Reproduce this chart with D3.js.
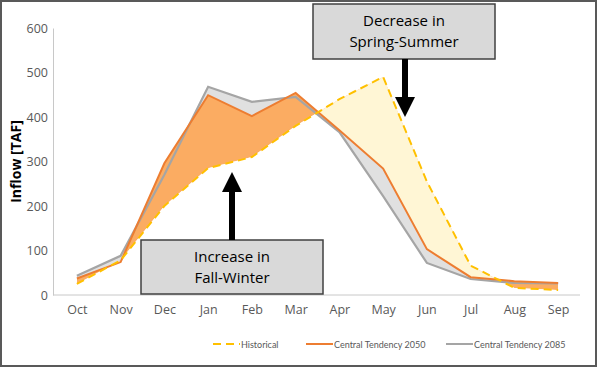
<!DOCTYPE html>
<html>
<head>
<meta charset="utf-8">
<script src="https://cdn.jsdelivr.net/npm/d3@7"></script>
<style>
  body { margin: 0; background: #fff; }
  svg { display: block; font-family: "Open Sans", sans-serif; }
</style>
</head>
<body>
<div id="chartContainer"></div>
<script>
// Data
const months = ['Oct', 'Nov', 'Dec', 'Jan', 'Feb', 'Mar', 'Apr', 'May', 'Jun', 'Jul', 'Aug', 'Sep'];
const historical = [25, 78, 200, 285, 310, 380, 440, 490, 255, 66, 16, 11];
const ct2050 = [37, 74, 296, 449, 402, 454, 370, 284, 103, 40, 31, 27];
const ct2085 = [43, 88, 270, 468, 434, 445, 366, 222, 72, 36, 27, 26];
const yTicks = [0, 100, 200, 300, 400, 500, 600];

const width = 597;
const height = 367;
const plot = { left: 55, right: 580, top: 28, bottom: 295 };

const svg = d3
  .select('#chartContainer')
  .append('svg')
  .attr('width', width)
  .attr('height', height);

// frame
svg.append('rect')
  .attr('x', 1).attr('y', 1)
  .attr('width', width - 2).attr('height', height - 2)
  .attr('fill', '#fff')
  .attr('stroke', '#595959')
  .attr('stroke-width', 2);

const x = d3.scalePoint().domain(months).range([plot.left, plot.right]).padding(0.5);
const y = d3.scaleLinear().domain([0, 600]).range([plot.bottom, plot.top]);

const rows = months.map((m, i) => ({ m, h: historical[i], a: ct2050[i], b: ct2085[i] }));

// clip regions above / below historical line
const defs = svg.append('defs');
defs.append('clipPath').attr('id', 'aboveHist')
  .append('path')
  .attr('d', d3.area().x(d => x(d.m)).y0(0).y1(d => y(d.h))(rows));
defs.append('clipPath').attr('id', 'belowHist')
  .append('path')
  .attr('d', d3.area().x(d => x(d.m)).y0(d => y(d.h)).y1(height)(rows));

// grey band between the two projections
svg.append('path')
  .attr('d', d3.area().x(d => x(d.m)).y0(d => y(d.a)).y1(d => y(d.b))(rows))
  .attr('fill', '#e0e0e0');

const between = d3.area().x(d => x(d.m)).y0(d => y(d.h)).y1(d => y(d.a));
// decrease (historical above 2050)
svg.append('path')
  .attr('d', between(rows))
  .attr('clip-path', 'url(#belowHist)')
  .attr('fill', '#fff6d5');
// increase (2050 above historical)
svg.append('path')
  .attr('d', between(rows))
  .attr('clip-path', 'url(#aboveHist)')
  .attr('fill', '#fbac62');

// axes
const yAxis = svg.append('g')
  .attr('transform', `translate(${plot.left - 2},0)`)
  .call(d3.axisLeft(y).tickValues(yTicks).tickSize(0).tickPadding(5));
yAxis.select('.domain').attr('stroke', '#c8c8c8');
yAxis.selectAll('text').attr('fill', '#595959').style('font-size', '12.5px').style('font-family', 'Open Sans');

const xAxis = svg.append('g')
  .attr('transform', `translate(0,${plot.bottom})`)
  .call(d3.axisBottom(x).tickSize(0).tickPadding(10));
xAxis.select('.domain').attr('d', `M${plot.left - 2},0H${plot.right}`).attr('stroke', '#c8c8c8');
xAxis.selectAll('text').attr('fill', '#595959').style('font-size', '12.5px').style('font-family', 'Open Sans');

// y label
svg.append('text')
  .attr('transform', `translate(21,${(plot.top + plot.bottom) / 2}) rotate(-90)`)
  .attr('text-anchor', 'middle')
  .style('font-size', '14px')
  .style('font-weight', 'bold')
  .attr('fill', '#000')
  .text('Inflow [TAF]');

// lines
const line = key => d3.line().x(d => x(d.m)).y(d => y(d[key]));
svg.append('path').attr('d', line('b')(rows))
  .attr('fill', 'none').attr('stroke', '#a5a5a5').attr('stroke-width', 2.2);
svg.append('path').attr('d', line('a')(rows))
  .attr('fill', 'none').attr('stroke', '#ed7d31').attr('stroke-width', 2);
svg.append('path').attr('d', line('h')(rows))
  .attr('fill', 'none').attr('stroke', '#ffc000').attr('stroke-width', 2)
  .attr('stroke-dasharray', '8,5');

// callouts
function callout(bx, by, bw, bh, lines) {
  svg.append('rect')
    .attr('x', bx).attr('y', by).attr('width', bw).attr('height', bh)
    .attr('fill', '#d9d9d9').attr('stroke', '#404040').attr('stroke-width', 1.5);
  lines.forEach((t, i) => {
    svg.append('text')
      .attr('x', bx + bw / 2)
      .attr('y', by + 22 + i * 20.5)
      .attr('text-anchor', 'middle')
      .style('font-size', '15px')
      .attr('fill', '#000')
      .text(t);
  });
}
function arrow(ax, yStart, yTip) {
  const dir = yTip > yStart ? 1 : -1;
  const headLen = 20;
  const yHead = yTip - dir * headLen;
  svg.append('path')
    .attr('d', `M${ax - 3},${yStart}V${yHead}H${ax - 10}L${ax},${yTip}L${ax + 10},${yHead}H${ax + 3}V${yStart}Z`)
    .attr('fill', '#000');
}
callout(313, 4, 182, 55, ['Decrease in', 'Spring-Summer']);
arrow(405, 59, 117);
callout(141, 240, 182, 54, ['Increase in', 'Fall-Winter']);
arrow(232, 240, 172);

// legend
const legend = [
  { label: 'Historical', color: '#ffc000', dash: '8,5', x: 213 },
  { label: 'Central Tendency 2050', color: '#ed7d31', dash: null, x: 306 },
  { label: 'Central Tendency 2085', color: '#a5a5a5', dash: null, x: 446 }
];
const lg = svg.selectAll('.legend').data(legend).enter().append('g').attr('class', 'legend');
lg.append('line')
  .attr('x1', d => d.x).attr('x2', d => d.x + 27)
  .attr('y1', 344).attr('y2', 344)
  .attr('stroke', d => d.color).attr('stroke-width', 2)
  .attr('stroke-dasharray', d => d.dash);
lg.append('text')
  .attr('x', d => d.x + 28).attr('y', 347.5)
  .style('font-size', '9px')
  .style('font-family', 'Lato')
  .attr('fill', '#595959')
  .text(d => d.label);
</script>
</body>
</html>
